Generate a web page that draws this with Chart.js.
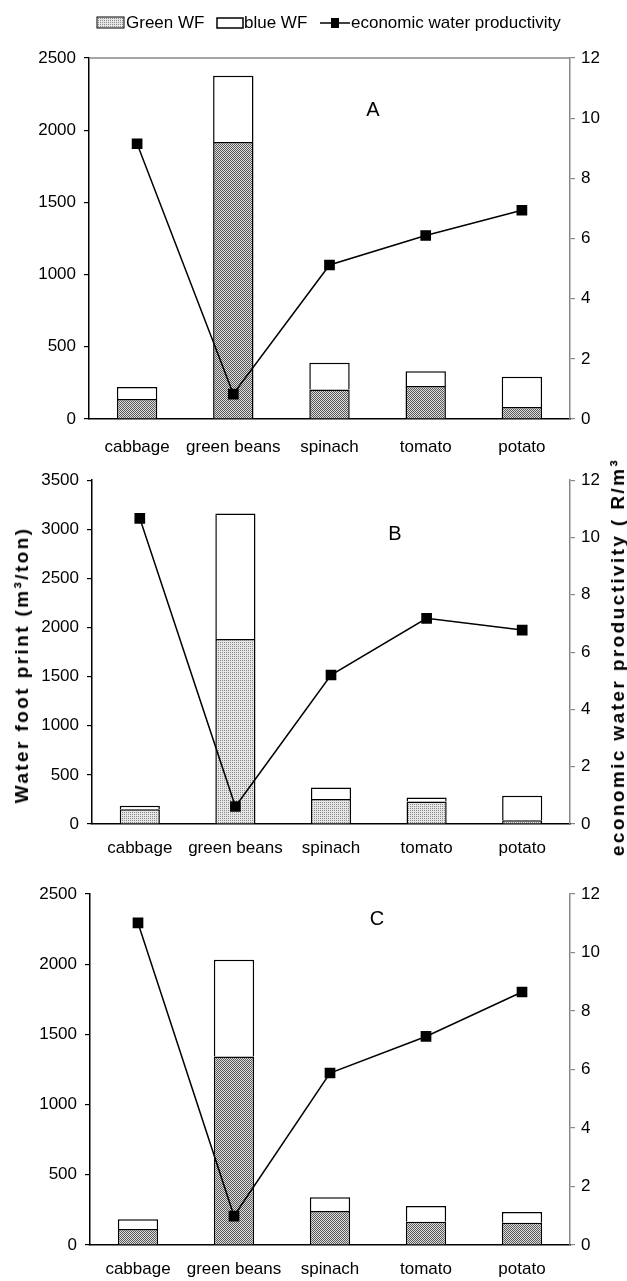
<!DOCTYPE html>
<html>
<head>
<meta charset="utf-8">
<title>Water footprint and economic water productivity</title>
<script src="https://cdn.jsdelivr.net/npm/chart.js@4.4.1/dist/chart.umd.min.js"></script>
<style>
    body { margin: 0; background: #fff; width: 627px; height: 1281px; position: relative; overflow: hidden; }
    .panel { position: absolute; left: 0; width: 627px; }
    .axis-title {
        position: absolute;
        font: bold 19px "Liberation Sans", Arial, sans-serif;
        letter-spacing: 2.4px;
        white-space: nowrap;
        color: #000;
        transform: translate(-50%, -50%) rotate(-90deg);
    }
</style>
</head>
<body>
<div class="panel" style="top:0;height:462px"><canvas id="chartA"></canvas></div>
<div class="panel" style="top:462px;height:404px"><canvas id="chartB"></canvas></div>
<div class="panel" style="top:866px;height:415px"><canvas id="chartC"></canvas></div>
<div class="axis-title" style="left:22px;top:665px">Water foot print (m³/ton)</div>
<div class="axis-title" style="left:618px;top:657px">economic water productivity ( R/m³</div>

<script>
// ---- data ----
const crops = ['cabbage', 'green beans', 'spinach', 'tomato', 'potato'];

const greenA = [138, 1919, 205, 228, 83];
const blueA  = [83, 458, 184, 102, 209];
const ewpA   = [9.15, 0.83, 5.12, 6.1, 6.94];

const greenB = [150, 1884, 254, 230, 37];
const blueB  = [35, 1277, 118, 40, 251];
const ewpB   = [10.67, 0.61, 5.2, 7.18, 6.77];

const greenC = [114, 1342, 242, 166, 159];
const blueC  = [69, 690, 98, 112, 76];
const ewpC   = [11.01, 0.99, 5.88, 7.13, 8.65];

const wfTicksA = [0, 500, 1000, 1500, 2000, 2500];
const wfTicksB = [0, 500, 1000, 1500, 2000, 2500, 3000, 3500];
const wfTicksC = [0, 500, 1000, 1500, 2000, 2500];
const ewpTicks = [0, 2, 4, 6, 8, 10, 12];

const legendLabels = ['Green WF', 'blue WF', 'economic water productivity'];

const FONT = '"Liberation Sans", Arial, sans-serif';

// small stipple tiles used for the green part of the bars
function stipple(light, dark) {
    const c = document.createElement('canvas');
    c.width = 2; c.height = 2;
    const g = c.getContext('2d');
    g.fillStyle = light; g.fillRect(0, 0, 2, 2);
    g.fillStyle = dark; g.fillRect(0, 0, 1, 1); g.fillRect(1, 1, 1, 1);
    return g.createPattern(c, 'repeat');
}
function fineStipple(light, dark) {
    const c = document.createElement('canvas');
    c.width = 2; c.height = 2;
    const g = c.getContext('2d');
    g.fillStyle = light; g.fillRect(0, 0, 2, 2);
    g.fillStyle = dark; g.fillRect(0, 0, 1, 1);
    return g.createPattern(c, 'repeat');
}

const panelLetter = {
    id: 'panelLetter',
    afterDraw(chart, args, opts) {
        const ctx = chart.ctx;
        ctx.save();
        ctx.font = '20px ' + FONT;
        ctx.fillStyle = '#000';
        ctx.textAlign = 'center';
        ctx.textBaseline = 'middle';
        ctx.fillText(opts.text, opts.x, opts.y);
        ctx.restore();
    }
};

const topFrame = {
    id: 'topFrame',
    afterDraw(chart, args, opts) {
        if (!opts.show) return;
        const {ctx, chartArea} = chart;
        ctx.save();
        ctx.strokeStyle = '#888';
        ctx.lineWidth = 1.5;
        ctx.beginPath();
        ctx.moveTo(chartArea.left, chartArea.top);
        ctx.lineTo(chartArea.right, chartArea.top);
        ctx.stroke();
        ctx.restore();
    }
};

// legend with a line + marker sample, as in the original figure
const figureLegend = {
    id: 'figureLegend',
    afterDraw(chart, args, opts) {
        if (!opts.show) return;
        const ctx = chart.ctx;
        const ds = chart.data.datasets;
        const cy = 23;
        ctx.save();
        ctx.font = '17px ' + FONT;
        ctx.textBaseline = 'middle';

        ctx.fillStyle = opts.swatch;
        ctx.fillRect(97, 17, 27, 11);
        ctx.strokeStyle = '#000';
        ctx.lineWidth = 1;
        ctx.strokeRect(97, 17, 27, 11);
        ctx.fillStyle = '#000';
        ctx.fillText(ds[0].label, 126, cy);

        ctx.fillStyle = '#fff';
        ctx.fillRect(217, 18, 26, 10);
        ctx.lineWidth = 1.5;
        ctx.strokeRect(217, 18, 26, 10);
        ctx.fillStyle = '#000';
        ctx.fillText(ds[1].label, 244, cy);

        ctx.beginPath();
        ctx.moveTo(320, cy);
        ctx.lineTo(350, cy);
        ctx.stroke();
        ctx.fillRect(331, cy - 5, 8, 10);
        ctx.fillText(ds[2].label, 351, cy);
        ctx.restore();
    }
};

function makeChart(id, cfg) {
    const ticksFont = { family: FONT, size: 17 };
    return new Chart(document.getElementById(id), {
        data: {
            labels: crops,
            datasets: [
                {
                    type: 'bar', label: legendLabels[0], data: cfg.green,
                    backgroundColor: cfg.pattern, borderColor: '#000', borderWidth: 1.5,
                    yAxisID: 'y', stack: 'wf', order: 1,
                    barPercentage: 1, categoryPercentage: 0.42
                },
                {
                    type: 'bar', label: legendLabels[1], data: cfg.blue,
                    backgroundColor: '#fff', borderColor: '#000', borderWidth: 1.5,
                    yAxisID: 'y', stack: 'wf', order: 1,
                    barPercentage: 1, categoryPercentage: 0.42
                },
                {
                    type: 'line', label: legendLabels[2], data: cfg.ewp,
                    borderColor: '#000', borderWidth: 1.5, backgroundColor: '#000',
                    pointStyle: 'rect', pointRadius: 6.5, pointHoverRadius: 6.5,
                    tension: 0, yAxisID: 'y1', order: 0
                }
            ]
        },
        options: {
            responsive: true,
            maintainAspectRatio: false,
            animation: false,
            layout: { padding: { top: cfg.padTop, left: 0, right: 0, bottom: 0 } },
            plugins: {
                legend: { display: false },
                tooltip: { enabled: false },
                panelLetter: cfg.letter,
                topFrame: { show: cfg.frame },
                figureLegend: { show: cfg.legend, swatch: cfg.swatch }
            },
            scales: {
                x: {
                    stacked: true,
                    grid: { display: false, drawTicks: false },
                    border: { display: true, color: '#000', width: 1.5 },
                    ticks: { color: '#000', font: ticksFont, padding: cfg.xPad, maxRotation: 0, autoSkip: false },
                    afterFit: s => { s.height = cfg.xHeight; }
                },
                y: {
                    stacked: true,
                    position: 'left',
                    min: cfg.wfTicks[0],
                    max: cfg.wfTicks[cfg.wfTicks.length - 1],
                    grid: { drawOnChartArea: false, color: '#000', tickLength: 5, lineWidth: 1.2 },
                    border: { display: true, color: '#000', width: 1.5 },
                    ticks: {
                        stepSize: cfg.wfTicks[1] - cfg.wfTicks[0], color: '#000', font: ticksFont, padding: 8,
                        callback: v => String(v)
                    },
                    afterFit: s => { s.width = cfg.leftWidth; }
                },
                y1: {
                    position: 'right',
                    min: ewpTicks[0],
                    max: ewpTicks[ewpTicks.length - 1],
                    grid: { drawOnChartArea: false, color: '#888', tickLength: 5, lineWidth: 1.2 },
                    border: { display: true, color: '#888', width: 1.5 },
                    ticks: { stepSize: ewpTicks[1] - ewpTicks[0], color: '#000', font: ticksFont, padding: 6 },
                    afterFit: s => { s.width = 57; }
                }
            }
        },
        plugins: [panelLetter, topFrame, figureLegend]
    });
}

document.addEventListener('DOMContentLoaded', () => {
    const darkDots = stipple('#dcdcdc', '#5a5a5a');
    const lightDots = fineStipple('#e6e6e6', '#8a8a8a');

    makeChart('chartA', {
        green: greenA, blue: blueA, ewp: ewpA, wfTicks: wfTicksA, pattern: darkDots,
        padTop: 58, xHeight: 43, xPad: 18, leftWidth: 89, frame: true, legend: true, swatch: lightDots,
        letter: { text: 'A', x: 373, y: 110 }
    });
    makeChart('chartB', {
        green: greenB, blue: blueB, ewp: ewpB, wfTicks: wfTicksB, pattern: lightDots,
        padTop: 18, xHeight: 42, xPad: 14, leftWidth: 92, frame: false, legend: false,
        letter: { text: 'B', x: 395, y: 72 }
    });
    makeChart('chartC', {
        green: greenC, blue: blueC, ewp: ewpC, wfTicks: wfTicksC, pattern: darkDots,
        padTop: 28, xHeight: 36, xPad: 14, leftWidth: 90, frame: false, legend: false,
        letter: { text: 'C', x: 377, y: 53 }
    });
});
</script>
</body>
</html>
